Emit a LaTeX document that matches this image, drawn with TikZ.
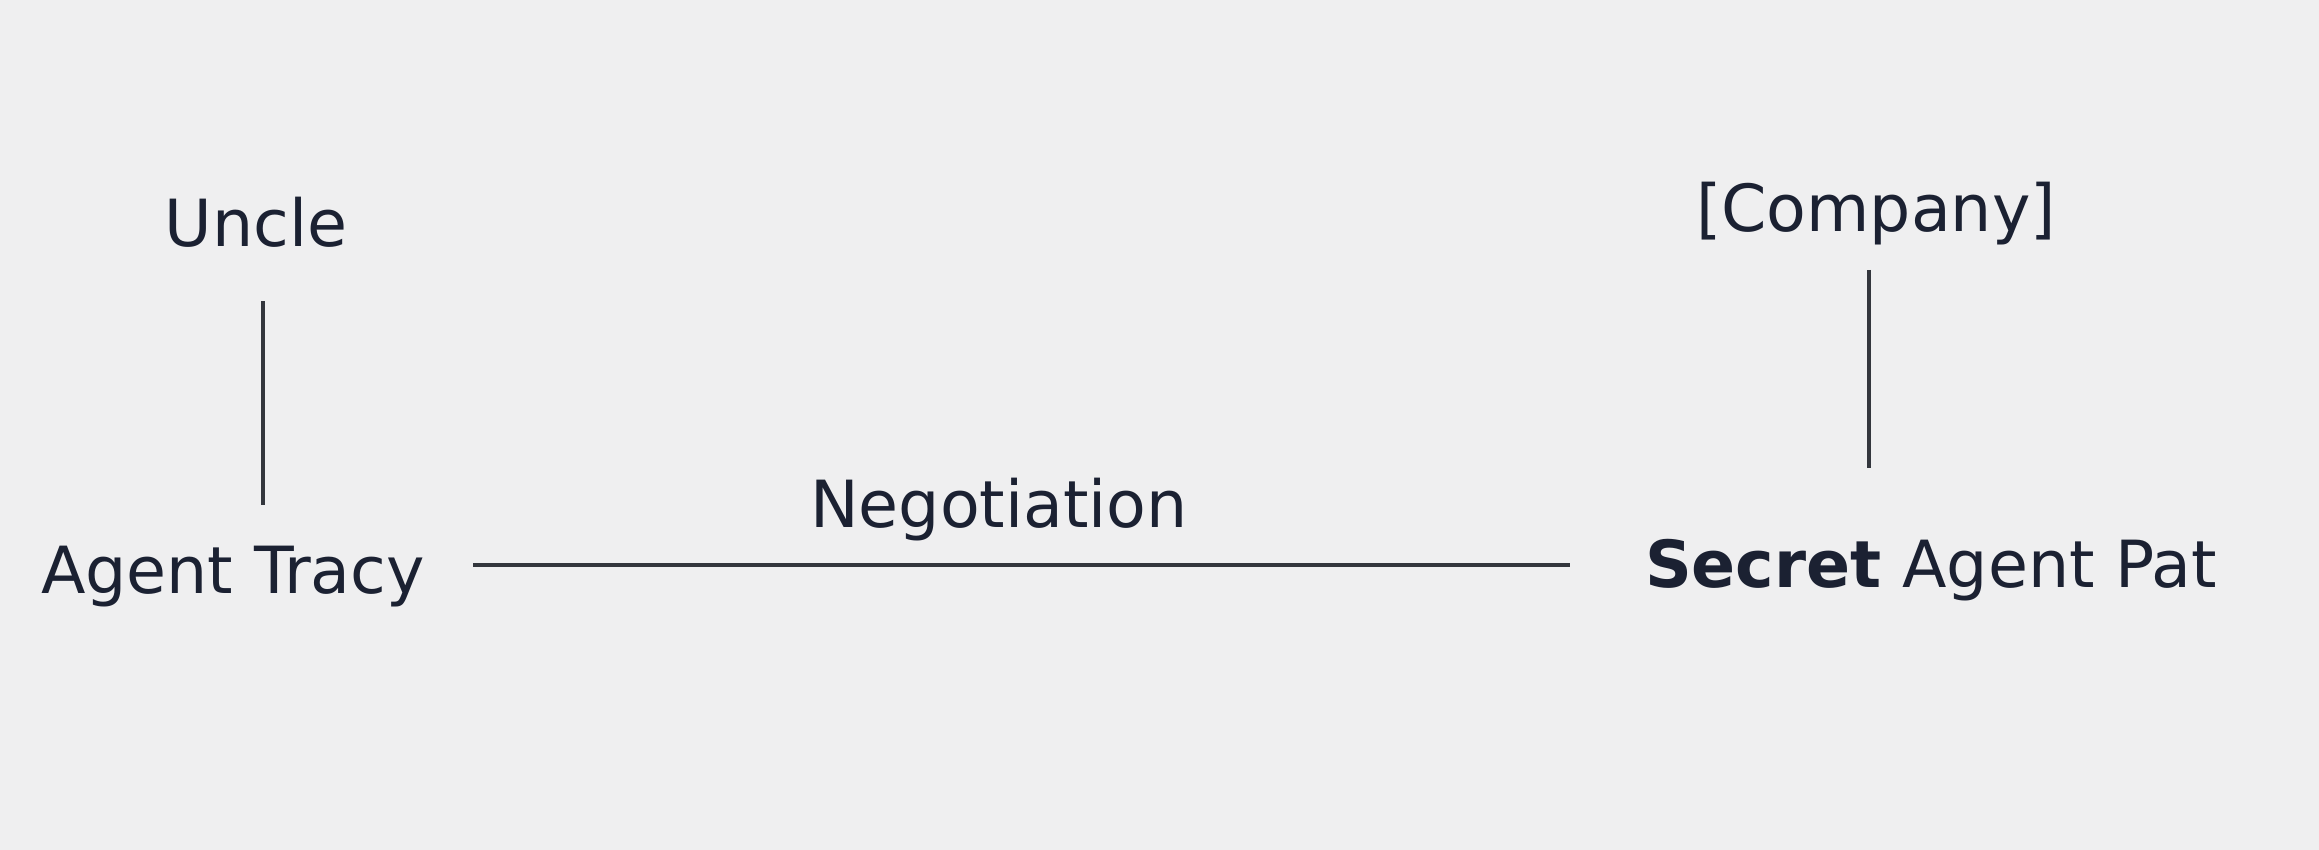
\documentclass[tikz,border=0pt]{standalone}
\usepackage{fontspec}
\setmainfont{DejaVu Sans}
\usepackage{tikz}
\usepackage{xcolor}
\definecolor{paper}{HTML}{EFEFF0}
\definecolor{ink}{HTML}{1B2132}
\definecolor{wire}{HTML}{33363D}

\begin{document}
\begin{tikzpicture}[x=0.5pt,y=-0.5pt,
  person/.style={anchor=base,inner sep=0,text=ink,font=\fontsize{32.5}{39}\selectfont},
  link/.style={draw=wire,line width=1.7pt}]
\fill[paper] (0,0) rectangle (2319,850);
\useasboundingbox (0,0) rectangle (2319,850);
\node[person] (uncle) at (256,247) {Uncle};
\node[person] (tracy) at (233,593) {Agent Tracy};
\node[person] (company) at (1876,232) {[Company]};
\node[person] (pat) at (1931,587) {\textbf{Secret} Agent Pat};
\node[person] (deal) at (999,527) {Negotiation};
\draw[link] ([shift={(3.5pt,-26.5pt)}]uncle.south) -- ([shift={(3.5pt,20pt)}]uncle.south |- tracy.north);
\draw[link] ([shift={(-3.5pt,-12pt)}]company.south) -- ([shift={(-3.5pt,35pt)}]company.south |- pat.north);
\draw[link] ([shift={(24pt,14pt)}]tracy.base east) -- ([shift={(-37.5pt,14pt)}]tracy.base east -| pat.west);
\end{tikzpicture}
\end{document}
